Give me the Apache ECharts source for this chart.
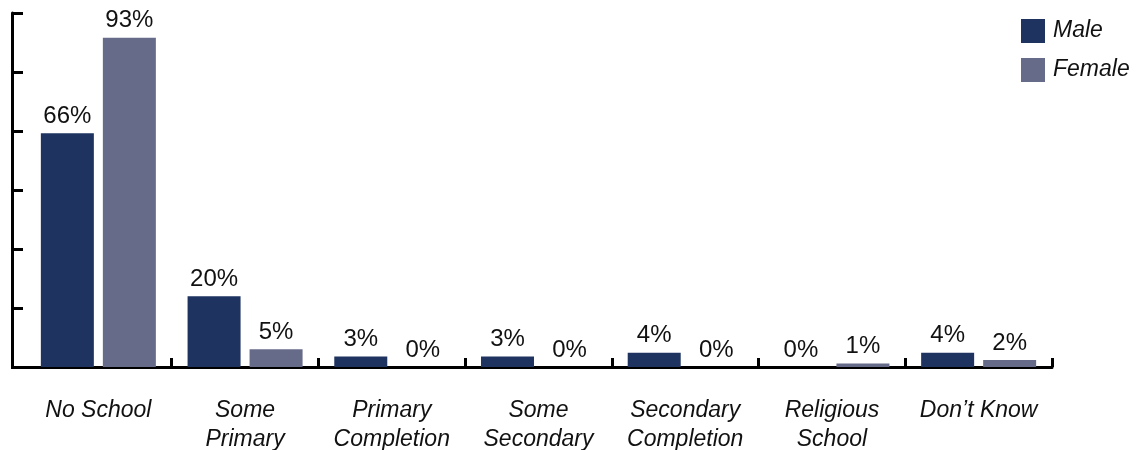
<!DOCTYPE html>
<html>
<head>
<meta charset="utf-8">
<script src="https://cdn.jsdelivr.net/npm/echarts@6/dist/echarts.min.js"></script>
<style>html,body{margin:0;padding:0;background:#fff}#c{width:1145px;height:450px}</style>
</head>
<body>
<div id="c"></div>
<script>
var categories = ['No School', 'Some\nPrimary', 'Primary\nCompletion', 'Some\nSecondary', 'Secondary\nCompletion', 'Religious\nSchool', 'Don\u2019t Know'];
var maleValues = [66, 20, 3, 3, 4, 0, 4];
var femaleValues = [93, 5, 0, 0, 0, 1, 2];
var seriesNames = ['Male', 'Female'];

var chart = echarts.init(document.getElementById('c'));
var FONT = '"Liberation Sans", Arial, sans-serif';
var labelCfg = {
  show: true, position: 'top', distance: 5,
  formatter: '{c}%', color: '#111', fontSize: 24, fontFamily: FONT
};
chart.setOption({
  animation: false,
  grid: {left: 25, right: 93, top: 13, bottom: 83, containLabel: false, outerBoundsMode: 'none'},
  legend: {
    orient: 'vertical', left: 1016, top: 14, itemWidth: 24, itemHeight: 24, itemGap: 15,
    icon: 'rect',
    textStyle: {fontSize: 23, fontStyle: 'italic', fontFamily: FONT, color: '#111', padding: [0, 0, 0, 3]},
    data: seriesNames
  },
  xAxis: {
    type: 'category', data: categories,
    axisLine: {lineStyle: {color: '#000', width: 3}},
    axisTick: {show: true, inside: true, length: 9, interval: function (i) { return i > 0; }, lineStyle: {color: '#000', width: 3}},
    axisLabel: {fontSize: 23, fontStyle: 'italic', fontFamily: FONT, color: '#111', lineHeight: 29, margin: 29, interval: 0}
  },
  yAxis: {
    type: 'value', min: 0, max: 100, interval: 100 / 6, offset: 13,
    axisLine: {show: true, lineStyle: {color: '#000', width: 3}},
    axisTick: {show: true, inside: true, length: 11, lineStyle: {color: '#000', width: 3}},
    axisLabel: {show: false},
    splitLine: {show: false}
  },
  graphic: [{
    type: 'rect', shape: {x: 11, y: 366, width: 15, height: 3}, style: {fill: '#000'}
  }],
  series: [
    {name: seriesNames[0], type: 'bar', data: maleValues, barWidth: 53, barGap: '17%',
     itemStyle: {color: '#1E3360'}, label: labelCfg},
    {name: seriesNames[1], type: 'bar', data: femaleValues, barWidth: 53, barGap: '17%',
     itemStyle: {color: '#676B8A'}, label: labelCfg}
  ]
});
</script>
</body>
</html>
